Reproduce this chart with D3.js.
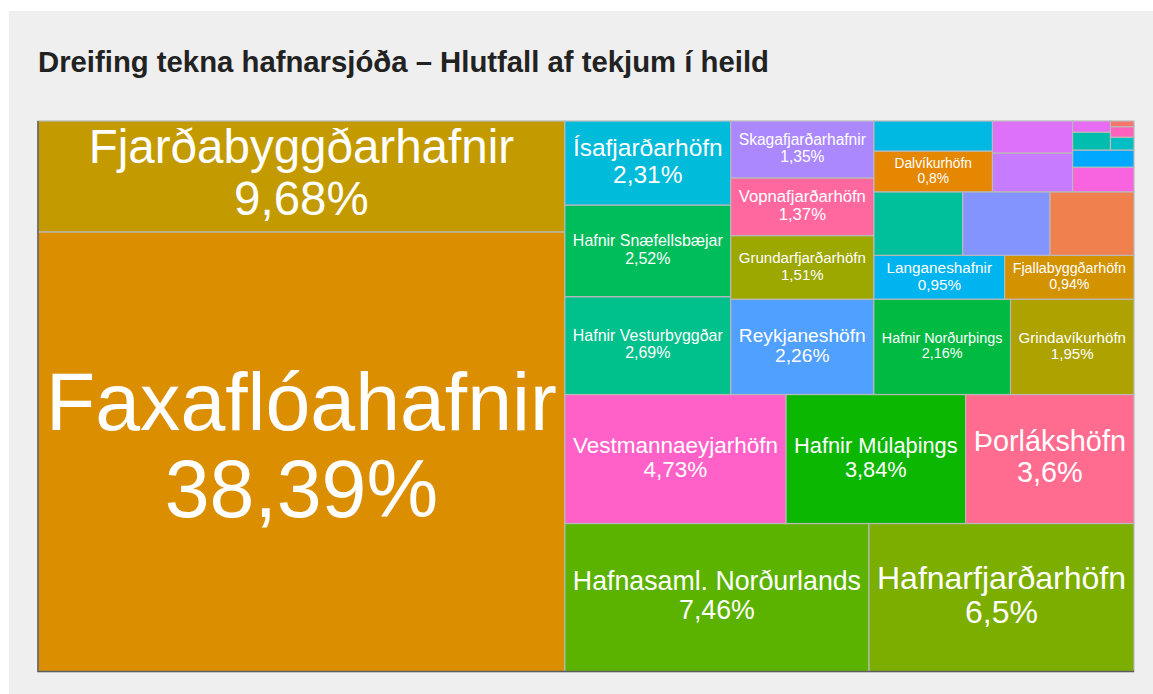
<!DOCTYPE html>
<html lang="is">
<head>
<meta charset="UTF-8">
<title>Dreifing tekna hafnarsjóða</title>
<script src="https://d3js.org/d3.v7.min.js"></script>
<style>
  body { margin: 0; background: #fff; }
  svg { display: block; font-family: "Liberation Sans", Arial, Helvetica, sans-serif; }
</style>
</head>
<body>
<svg id="chart" width="1153" height="694"></svg>
<script>
// hafnarsjóðir, hlutfall af tekjum (%) - ómerktir reitir eru metnir út frá flatarmáli
const harbours = [
  "Faxaflóahafnir", "Fjarðabyggðarhafnir", "Hafnasaml. Norðurlands", "Hafnarfjarðarhöfn",
  "Vestmannaeyjarhöfn", "Hafnir Múlaþings", "Þorlákshöfn", "Hafnir Vesturbyggðar",
  "Hafnir Snæfellsbæjar", "Ísafjarðarhöfn", "Reykjaneshöfn", "Hafnir Norðurþings",
  "Grindavíkurhöfn", "Grundarfjarðarhöfn", "Vopnafjarðarhöfn", "Skagafjarðarhafnir",
  "Langaneshafnir", "Fjallabyggðarhöfn", "Dalvíkurhöfn",
  "", "", "", "", "", "", "", "", "", "", "", "", ""
];
const shares = [
  38.39, 9.68, 7.46, 6.5,
  4.73, 3.84, 3.6, 2.69,
  2.52, 2.31, 2.26, 2.16,
  1.95, 1.51, 1.37, 1.35,
  0.95, 0.94, 0.8,
  0.935, 0.92, 0.885, 0.59, 0.515, 0.425, 0.25, 0.175, 0.112, 0.07, 0.05, 0.041, 0.022
];
const palette = [
  "#DB8E00", "#C39A00", "#5BB300", "#7CAE00",
  "#FF61C9", "#0CB702", "#FF6C90", "#00C08B",
  "#00BD5C", "#00BBDA", "#4FA0FF", "#00BA42",
  "#ADA200", "#9CA700", "#FF689F", "#AC88FF",
  "#00B4EF", "#D39200", "#E58700",
  "#00C09B", "#8494FF", "#F0804E", "#00B9E3", "#C77CFF", "#DD72F8", "#F863DF",
  "#00A9FF", "#00BDAE", "#E76BF3", "#00BFC4", "#FF62BC", "#F8766D"
];

const svg = d3.select("#chart");
const W = 1153, H = 694;
const margin = {top: 121, right: 19, bottom: 22.5, left: 38};

svg.append("rect")
  .attr("x", 9).attr("y", 11)
  .attr("width", W - 9).attr("height", H - 11)
  .attr("fill", "#efefef");

svg.append("text")
  .attr("x", margin.left).attr("y", 72)
  .attr("font-size", 29.3).attr("font-weight", "bold")
  .attr("fill", "#222")
  .text("Dreifing tekna hafnarsjóða – Hlutfall af tekjum í heild");

// útreikningur í einingaferningi, síðan varpað á flötinn (neðst til vinstri fyrst)
const root = d3.hierarchy({children: shares.map((v, i) => ({i}))})
  .sum(d => d.i == null ? 0 : shares[d.i])
  .sort((a, b) => b.value - a.value);

d3.treemap()
  .tile(d3.treemapSquarify.ratio(1))
  .size([1, 1])(root);

const x = d3.scaleLinear().domain([0, 1]).range([margin.left, W - margin.right]);
const y = d3.scaleLinear().domain([0, 1]).range([H - margin.bottom, margin.top]);
const color = d3.scaleOrdinal().domain(d3.range(shares.length)).range(palette);

const is = d3.formatLocale({decimal: ",", thousands: ".", grouping: [3], currency: ["", " kr."]});
const pct = is.format(".2~f");

const leaves = root.leaves();

const cell = svg.append("g")
  .selectAll("g")
  .data(leaves)
  .join("g");

cell.append("rect")
  .attr("x", d => x(d.x0))
  .attr("y", d => y(d.y1))
  .attr("width", d => x(d.x1) - x(d.x0))
  .attr("height", d => y(d.y0) - y(d.y1))
  .attr("fill", d => color(d.data.i))
  .attr("stroke", "#b9b9b9")
  .attr("stroke-width", 1.2);

// ás-línur vinstra megin og neðst
svg.append("path")
  .attr("d", `M${x(0)},${y(1)}V${y(0)}H${x(1)}`)
  .attr("fill", "none")
  .attr("stroke", "#5c5c5c")
  .attr("stroke-width", 1.5);

// textar stækkaðir til að fylla reitinn
const padX = 8, padY = 6, lh = 1.08;
const labelled = leaves.filter(d => harbours[d.data.i] !== "");

const probe = svg.append("text").attr("font-size", 100);
function textWidth(s) {
  probe.text(s);
  return probe.node().getComputedTextLength();
}

const labels = svg.append("g")
  .selectAll("text")
  .data(labelled)
  .join("text")
  .attr("fill", "#fff")
  .attr("text-anchor", "middle")
  .each(function(d) {
    const w = x(d.x1) - x(d.x0), h = y(d.y0) - y(d.y1);
    const cx = (x(d.x0) + x(d.x1)) / 2, cy = (y(d.y0) + y(d.y1)) / 2;
    const lines = [harbours[d.data.i], pct(shares[d.data.i]) + "%"];
    const widest = d3.max(lines, textWidth);
    const size = Math.min((w - 2 * padX) / widest * 100, (h - 2 * padY) / (lh + 1.0));
    const base = cy - (lh - 0.53) * size / 2;
    const t = d3.select(this).attr("font-size", size.toFixed(2));
    lines.forEach((s, k) => {
      t.append("tspan")
        .attr("x", cx)
        .attr("y", base + k * lh * size)
        .text(s);
    });
  });

probe.remove();
</script>
</body>
</html>
